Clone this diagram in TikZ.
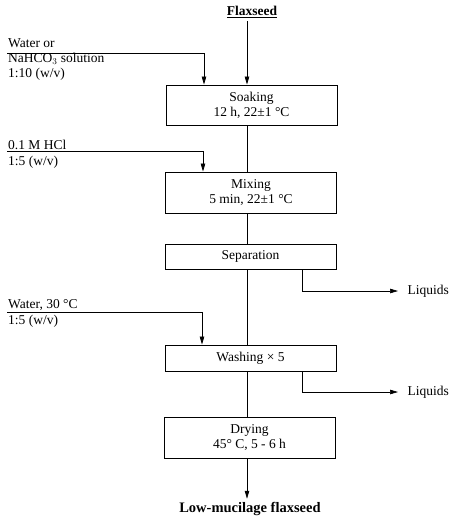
\documentclass[tikz,border=0pt]{standalone}
\usepackage{fontspec}
\setmainfont{Liberation Serif}
\usetikzlibrary{arrows.meta}

\tikzset{
  stagebox/.style={draw, line width=0.9pt, minimum width=171pt, align=center, inner sep=2pt},
  feedtext/.style={anchor=west, inner sep=1pt},
  flow/.style={line width=0.7pt},
  feed/.style={flow, -{Triangle[length=8pt,width=4.5pt]}}
}

\begin{document}
\begin{tikzpicture}[x=1pt,y=-1pt,font=\fontsize{13.5}{17}\selectfont]
\useasboundingbox (0,0) rectangle (451,517);
% stages:
\node[font=\fontsize{13.5}{17}\selectfont\bfseries] (flax) at (252,12) {\underline{Flaxseed}};
\node[stagebox, minimum height=40pt] (soak) at (251.5,105) {\raisebox{-2pt}{Soaking}\\12 h, 22±1 °C};
\node[stagebox, minimum height=41pt] (mix) at (251,192.5) {\raisebox{-2pt}{Mixing}\\5 min, 22±1 °C};
\node[stagebox, minimum height=25pt] (sep) at (250.5,256.5) {Separation};
\node[stagebox, minimum height=26pt] (wash) at (250.5,358) {Washing × 5};
\node[stagebox, minimum height=41pt] (dry) at (249.5,437.5) {\raisebox{-2pt}{Drying}\\45° C, 5 - 6 h};
\node[font=\fontsize{14.5}{17}\selectfont\bfseries] (prod) at (250,509) {Low-mucilage flaxseed};
\coordinate (axis) at (247,0);
% main line:
\draw[feed] (flax.south -| axis) -- (soak.north -| axis);
\draw[flow] (soak.south -| axis) -- (mix.north -| axis);
\draw[flow] (mix.south -| axis) -- (sep.north -| axis);
\draw[flow] (sep.south -| axis) -- (wash.north -| axis);
\draw[flow] (wash.south -| axis) -- (dry.north -| axis);
\draw[feed] (dry.south -| axis) -- (prod.north -| axis);
% additions:
\node[feedtext] (wat1) at (7,43) {Water or};
\node[feedtext] (wat2) at (7,59) {NaHCO$_3$ solution};
\node[feedtext] (wat3) at (7,74) {1:10 (w/v)};
\coordinate (watline) at (7,53);
\coordinate (watdrop) at (204,0);
\draw[feed] (watline) -| (soak.north -| watdrop);
\node[feedtext] (hcl1) at (7,145) {0.1 M HCl};
\node[feedtext] (hcl2) at (7,162) {1:5 (w/v)};
\coordinate (hclline) at (7,151);
\coordinate (hcldrop) at (203,0);
\draw[feed] (hclline) -| (mix.north -| hcldrop);
\node[feedtext] (ww1) at (7,305) {Water, 30 °C};
\node[feedtext] (ww2) at (7,321) {1:5 (w/v)};
\coordinate (wwline) at (7,312);
\coordinate (wwdrop) at (202,0);
\draw[feed] (wwline) -| (wash.north -| wwdrop);
% outlets:
\coordinate (drain) at (302,0);
\node[anchor=west] (liq1) at (404,291) {Liquids};
\node[anchor=west] (liq2) at (404,392) {Liquids};
\draw[feed, shorten >=6pt] (sep.south -| drain) |- (liq1.west);
\draw[feed, shorten >=6pt] (wash.south -| drain) |- (liq2.west);
\end{tikzpicture}
\end{document}
